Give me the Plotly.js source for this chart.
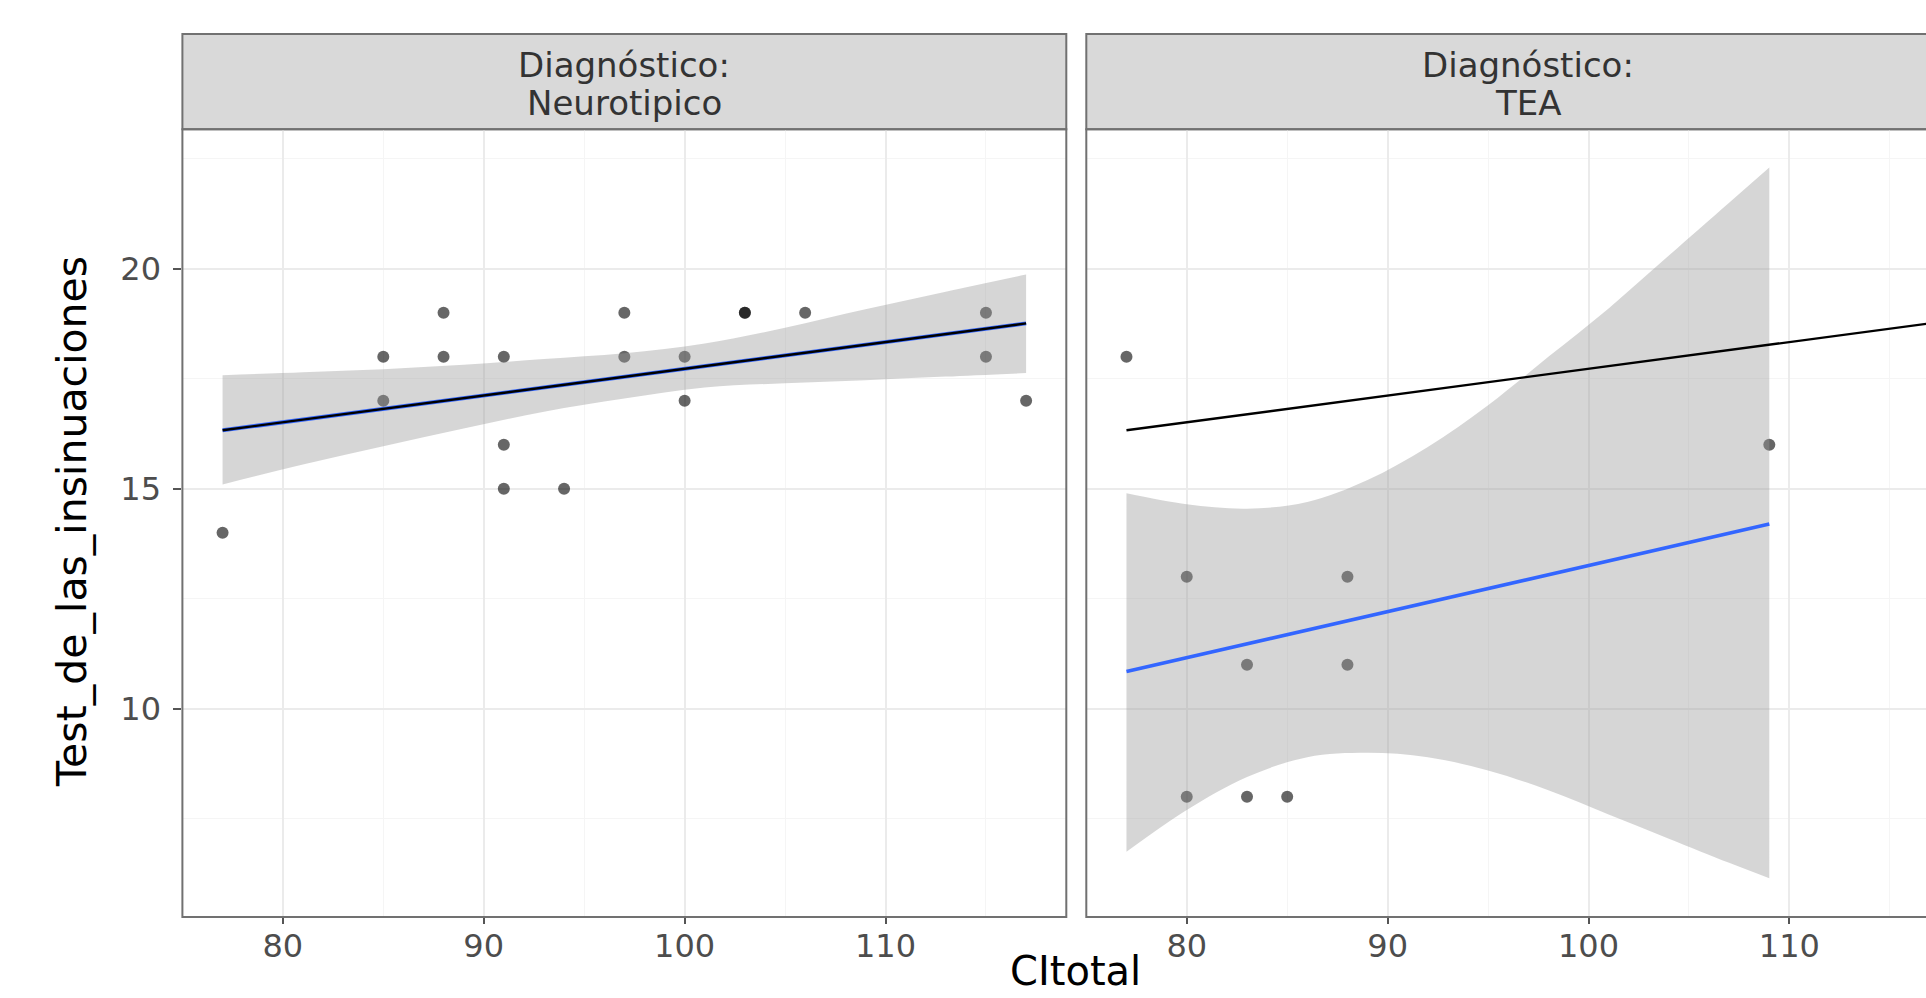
<!DOCTYPE html>
<html><head><meta charset="utf-8">
<script src="https://cdn.plot.ly/plotly-3.0.1.min.js"></script>
<style>html,body{margin:0;padding:0;background:#fff;overflow:hidden}#chart{width:1926px;height:998px}</style>
</head><body><div id="chart"></div>
<script>
// ---- data ----
const facetTitles = ["Diagnóstico:", "Neurotipico", "TEA"];
const xTitle = "CItotal";
const yTitle = "Test_de_las_insinuaciones";
const xTicks = [80, 90, 100, 110];
const xMinorTicks = [75, 85, 95, 105, 115];
const yTicks = [10, 15, 20];
const yMinorTicks = [7.5, 12.5, 17.5, 22.5];

// Neurotipico points
const ntX = [77, 85, 85, 88, 88, 91, 91, 91, 94, 97, 97, 100, 100, 103, 103, 106, 115, 115, 117];
const ntY = [14, 18, 17, 19, 18, 18, 16, 15, 15, 19, 18, 18, 17, 19, 19, 19, 19, 18, 17];
// TEA points
const teaX = [77, 80, 80, 83, 83, 85, 88, 88, 109];
const teaY = [18, 13, 8, 11, 8, 8, 13, 11, 16];

// fitted lines
const ntFitX = [77, 117];
const ntFitY = [16.33, 18.76];
const teaFitX = [77, 109];
const teaFitY = [10.85, 14.2];

// confidence bands
const ntBandX = [77, 81, 85, 89, 93, 97, 101, 105, 109, 113, 117];
const ntBandUpper = [17.58, 17.65, 17.72, 17.82, 17.95, 18.08, 18.3, 18.66, 19.08, 19.48, 19.87];
const ntBandLower = [15.1, 15.55, 15.97, 16.37, 16.75, 17.05, 17.3, 17.4, 17.47, 17.55, 17.63];
const teaBandX = [77, 80, 83, 86, 89, 92, 95, 98, 101, 104, 107, 109];
const teaBandUpper = [14.9, 14.65, 14.55, 14.7, 15.2, 15.95, 16.9, 18.0, 19.1, 20.3, 21.5, 22.3];
const teaBandLower = [6.75, 7.7, 8.45, 8.9, 9.0, 8.9, 8.6, 8.15, 7.6, 7.05, 6.5, 6.15];

// ---- layout helpers ----
const W = 1926, H = 998;
const px = v => v / W;
const py = v => 1 - v / H;
const FONT = "DejaVu Sans, Liberation Sans, Arial, sans-serif";
const P1 = [182.4, 1066.3], P2 = [1086.3, 1940];
const PT = 129.3, PB = 917, ST = 34;

const pointStyle = {size: 12, color: "rgba(0,0,0,0.6)", line: {width: 0}};
const bandFill = "rgba(153,153,153,0.4)";

function band(xs, lo, hi, xa, ya) {
  return [
    {type: "scatter", mode: "lines", x: xs, y: lo, xaxis: xa, yaxis: ya,
     line: {width: 0, shape: "spline"}, hoverinfo: "skip", showlegend: false},
    {type: "scatter", mode: "lines", x: xs, y: hi, xaxis: xa, yaxis: ya,
     line: {width: 0, shape: "spline"}, fill: "tonexty", fillcolor: bandFill,
     hoverinfo: "skip", showlegend: false}
  ];
}

const data = [
  {type: "scatter", mode: "markers", x: ntX, y: ntY, xaxis: "x", yaxis: "y", marker: pointStyle, showlegend: false},
  ...band(ntBandX, ntBandLower, ntBandUpper, "x", "y"),
  {type: "scatter", mode: "lines", x: ntFitX, y: ntFitY, xaxis: "x", yaxis: "y", line: {color: "#3366FF", width: 4}, showlegend: false},
  {type: "scatter", mode: "lines", x: ntFitX, y: ntFitY, xaxis: "x", yaxis: "y", line: {color: "#000000", width: 2.4}, showlegend: false},

  {type: "scatter", mode: "markers", x: teaX, y: teaY, xaxis: "x2", yaxis: "y2", marker: pointStyle, showlegend: false},
  ...band(teaBandX, teaBandLower, teaBandUpper, "x2", "y2"),
  {type: "scatter", mode: "lines", x: teaFitX, y: teaFitY, xaxis: "x2", yaxis: "y2", line: {color: "#3366FF", width: 3.6}, showlegend: false},
  {type: "scatter", mode: "lines", x: ntFitX, y: ntFitY, xaxis: "x2", yaxis: "y2", line: {color: "#000000", width: 2.4}, showlegend: false}
];

const tickFont = {family: FONT, size: 32, color: "#4D4D4D"};
function xAxis(domain, range, anchor) {
  return {
    domain: domain, range: range, anchor: anchor,
    tickmode: "array", tickvals: xTicks, ticktext: xTicks.map(String),
    ticks: "outside", ticklen: 6, tickwidth: 2, tickcolor: "#555",
    ticklabelstandoff: -5,
    tickfont: tickFont,
    showgrid: true, gridcolor: "#EBEBEB", gridwidth: 2,
    minor: {tickmode: "array", tickvals: xMinorTicks, showgrid: true, gridcolor: "#F5F5F5", gridwidth: 1, ticks: ""},
    zeroline: false, showline: false, fixedrange: true
  };
}
function yAxis(anchor, showLabels) {
  return {
    domain: [py(PB), py(PT)], range: [5.27, 23.17], anchor: anchor,
    tickmode: "array", tickvals: yTicks, ticktext: yTicks.map(String),
    ticks: showLabels ? "outside" : "", ticklen: 8, tickwidth: 2, tickcolor: "#555",
    showticklabels: showLabels, ticklabelstandoff: 6,
    tickfont: tickFont,
    showgrid: true, gridcolor: "#EBEBEB", gridwidth: 2,
    minor: {tickmode: "array", tickvals: yMinorTicks, showgrid: true, gridcolor: "#F5F5F5", gridwidth: 1, ticks: ""},
    zeroline: false, showline: false, fixedrange: true
  };
}

const frameLine = {color: "#717171", width: 2};
const shapes = [
  {type: "rect", xref: "paper", yref: "paper", x0: px(P1[0]), x1: px(P1[1]), y0: py(PT), y1: py(ST), fillcolor: "#D9D9D9", line: frameLine, layer: "below"},
  {type: "rect", xref: "paper", yref: "paper", x0: px(P2[0]), x1: px(P2[1]), y0: py(PT), y1: py(ST), fillcolor: "#D9D9D9", line: frameLine, layer: "below"},
  {type: "rect", xref: "paper", yref: "paper", x0: px(P1[0]), x1: px(P1[1]), y0: py(PB), y1: py(PT), line: frameLine, layer: "above"},
  {type: "rect", xref: "paper", yref: "paper", x0: px(P2[0]), x1: px(P2[1]), y0: py(PB), y1: py(PT), line: frameLine, layer: "above"}
];

const stripFont = {family: FONT, size: 34, color: "#333"};
const yTitleFont = {family: FONT, size: 41, color: "#000"};
const xTitleFont = {family: FONT, size: 40, color: "#000"};
const c1 = px((P1[0] + P1[1]) / 2), c2 = px((P2[0] + 1970) / 2);
const annotations = [
  {xref: "paper", yref: "paper", x: c1, y: py(65), text: facetTitles[0], showarrow: false, font: stripFont, xanchor: "center", yanchor: "middle"},
  {xref: "paper", yref: "paper", x: c1, y: py(103), text: facetTitles[1], showarrow: false, font: stripFont, xanchor: "center", yanchor: "middle"},
  {xref: "paper", yref: "paper", x: c2, y: py(65), text: facetTitles[0], showarrow: false, font: stripFont, xanchor: "center", yanchor: "middle"},
  {xref: "paper", yref: "paper", x: c2, y: py(103), text: facetTitles[2], showarrow: false, font: stripFont, xanchor: "center", yanchor: "middle"},
  {xref: "paper", yref: "paper", x: px(72), y: py(522), text: yTitle, textangle: -90, showarrow: false, font: yTitleFont, xanchor: "center", yanchor: "middle"},
  {xref: "paper", yref: "paper", x: px(1075), y: py(971), text: xTitle, showarrow: false, font: xTitleFont, xanchor: "center", yanchor: "middle"}
];

const layout = {
  width: W, height: H,
  margin: {l: 0, r: 0, t: 0, b: 0, pad: 0},
  paper_bgcolor: "#FFFFFF", plot_bgcolor: "#FFFFFF",
  showlegend: false,
  xaxis: xAxis([px(P1[0]), px(P1[1])], [75, 119], "y"),
  xaxis2: xAxis([px(P2[0]), 1], [75, 116.8], "y2"),
  yaxis: yAxis("x", true),
  yaxis2: yAxis("x2", false),
  shapes: shapes,
  annotations: annotations
};

Plotly.newPlot("chart", data, layout, {staticPlot: true, displayModeBar: false});
</script></body></html>
